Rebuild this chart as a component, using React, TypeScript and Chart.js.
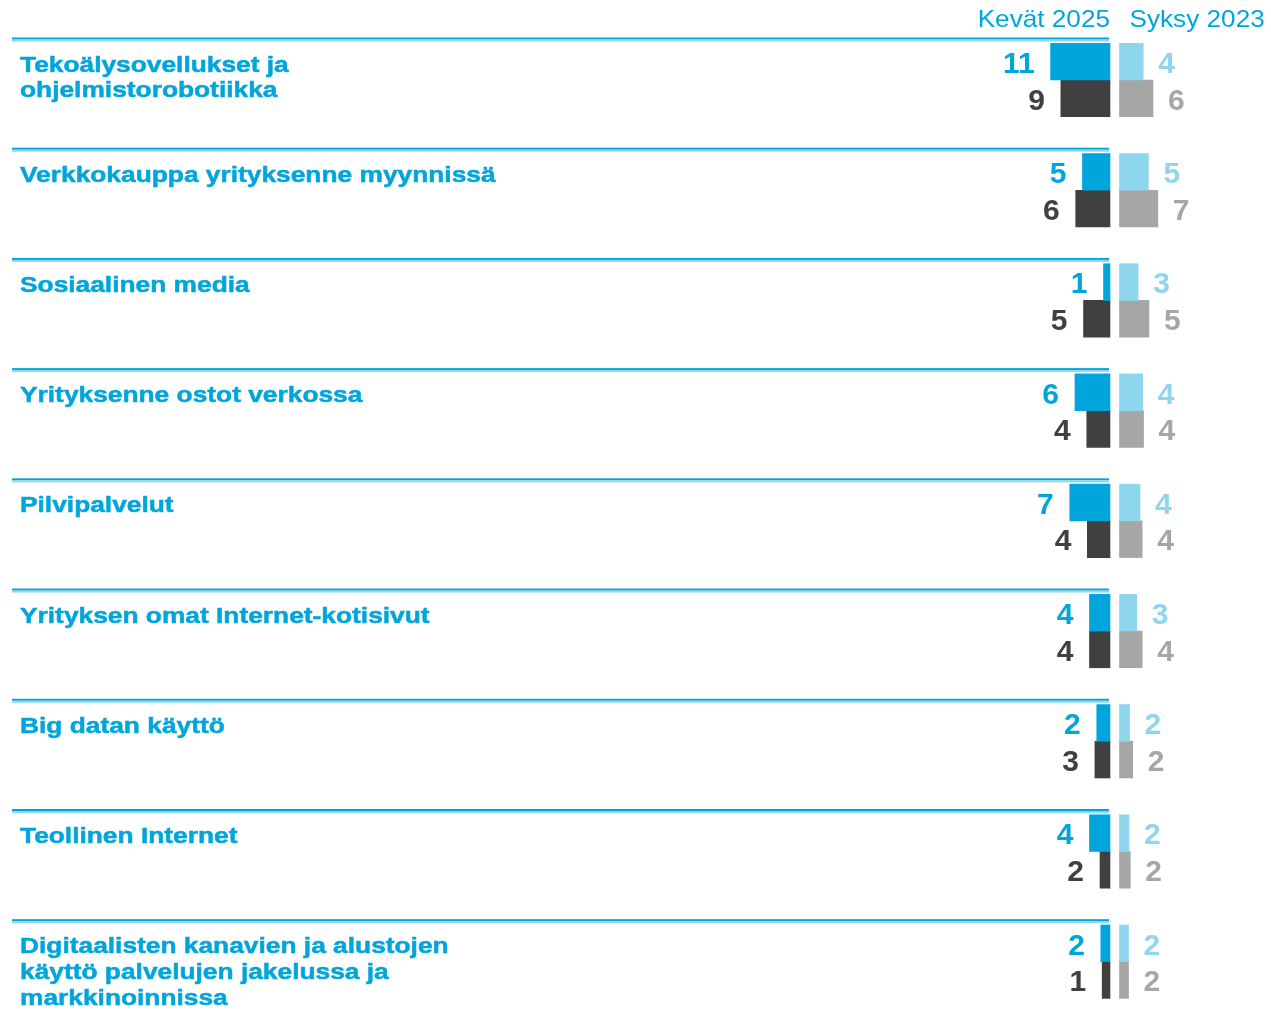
import React, { useEffect, useRef } from "react";
import { Chart, registerables } from "chart.js";

Chart.register(...registerables);

// ---- data ----
const categories: string[][] = [
  ["Tekoälysovellukset ja", "ohjelmistorobotiikka"],
  ["Verkkokauppa yrityksenne myynnissä"],
  ["Sosiaalinen media"],
  ["Yrityksenne ostot verkossa"],
  ["Pilvipalvelut"],
  ["Yrityksen omat Internet-kotisivut"],
  ["Big datan käyttö"],
  ["Teollinen Internet"],
  ["Digitaalisten kanavien ja alustojen", "käyttö palvelujen jakelussa ja", "markkinoinnissa"],
];
const seriesNames = ["Kevät 2025", "Syksy 2023"];
// top row (blue) and bottom row (grey) for each period
const kevat2025Top = [11.0, 5.1, 1.2, 6.49, 7.45, 3.8, 2.45, 3.8, 1.7];
const kevat2025Bottom = [9.1, 6.35, 4.9, 4.3, 4.2, 3.8, 2.8, 1.85, 1.45];
const syksy2023Top = [4.4, 5.35, 3.45, 4.3, 3.8, 3.2, 1.85, 1.75, 1.67];
const syksy2023Bottom = [6.2, 7.1, 5.45, 4.45, 4.2, 4.2, 2.45, 2.0, 1.67];

// ---- style / layout ----
const W = 1271;
const H = 1009;
const PX_PER_UNIT = 5.4;
const LEFT_ZERO = 1110;
const RIGHT_ZERO = 1119.5;
const BLUE = "#00A6DB";
const LIGHT_BLUE = "#8DD6EE";
const DARK = "#404040";
const GREY = "#A6A6A6";
const LINE_DARK = "#00A3DA";
const LINE_LIGHT = "#8ED8F0";
const FONT = '"Liberation Sans", Arial, sans-serif';

const decorPlugin = {
  id: "decor",
  afterDatasetsDraw(chart: any) {
    const ctx = chart.ctx as CanvasRenderingContext2D;
    const yScale = chart.scales.y;

    // header
    ctx.save();
    ctx.fillStyle = BLUE;
    ctx.font = `24px ${FONT}`;
    ctx.textBaseline = "alphabetic";
    ctx.save();
    ctx.translate(LEFT_ZERO, 27);
    ctx.scale(1.09, 1);
    ctx.textAlign = "right";
    ctx.fillText(seriesNames[0], 0, 0);
    ctx.restore();
    ctx.save();
    ctx.translate(RIGHT_ZERO + 10, 27);
    ctx.scale(1.09, 1);
    ctx.textAlign = "left";
    ctx.fillText(seriesNames[1], 0, 0);
    ctx.restore();
    ctx.restore();

    // separators + category labels
    categories.forEach((lines, i) => {
      const cy = yScale.getPixelForValue(i);
      const sep = cy - 42.5;
      ctx.save();
      ctx.fillStyle = LINE_DARK;
      ctx.fillRect(12, sep, LEFT_ZERO - 1 - 12, 2);
      ctx.fillStyle = LINE_LIGHT;
      ctx.fillRect(12, sep + 2, LEFT_ZERO - 1 - 12, 2);
      ctx.fillStyle = BLUE;
      ctx.strokeStyle = BLUE;
      ctx.lineWidth = 0.5;
      ctx.font = `bold 22.5px ${FONT}`;
      ctx.textAlign = "left";
      ctx.textBaseline = "alphabetic";
      lines.forEach((ln, k) => {
        ctx.save();
        ctx.translate(20, sep + 34 + k * 25.7);
        ctx.scale(1.17, 1);
        ctx.fillText(ln, 0, 0);
        ctx.strokeText(ln, 0, 0);
        ctx.restore();
      });
      ctx.restore();
    });

    // value labels
    chart.data.datasets.forEach((ds: any, di: number) => {
      const meta = chart.getDatasetMeta(di);
      const left = ds.xAxisID === "xL";
      ctx.save();
      ctx.font = `bold 30px ${FONT}`;
      ctx.fillStyle = ds.labelColor;
      ctx.textBaseline = "middle";
      ctx.textAlign = left ? "right" : "left";
      meta.data.forEach((bar: any, j: number) => {
        const v = ds.data[j];
        const txt = String(Math.round(v));
        const x = left ? bar.x - 16 : bar.x + 15;
        ctx.fillText(txt, x, bar.y + 3);
      });
      ctx.restore();
    });
  },
};

export default function App() {
  const ref = useRef<HTMLCanvasElement>(null);
  useEffect(() => {
    if (!ref.current) return;
    const chart = new Chart(ref.current, {
      type: "bar",
      data: {
        labels: categories.map((c) => c.join(" ")),
        datasets: [
          {
            label: seriesNames[0],
            data: kevat2025Top,
            backgroundColor: BLUE,
            labelColor: BLUE,
            xAxisID: "xL",
            stack: "top",
            clip: false,
          } as any,
          {
            label: seriesNames[0],
            data: kevat2025Bottom,
            backgroundColor: DARK,
            labelColor: DARK,
            xAxisID: "xL",
            stack: "bottom",
            clip: false,
          } as any,
          {
            label: seriesNames[1],
            data: syksy2023Top,
            backgroundColor: LIGHT_BLUE,
            labelColor: LIGHT_BLUE,
            xAxisID: "xR",
            stack: "top",
            clip: false,
          } as any,
          {
            label: seriesNames[1],
            data: syksy2023Bottom,
            backgroundColor: GREY,
            labelColor: GREY,
            xAxisID: "xR",
            stack: "bottom",
            clip: false,
          } as any,
        ],
      },
      options: {
        indexAxis: "y",
        responsive: true,
        maintainAspectRatio: false,
        animation: false,
        events: [],
        layout: { padding: { top: 80, bottom: H - 961.7, left: 0, right: 0 } },
        datasets: { bar: { barThickness: 36.7, borderWidth: 0 } },
        plugins: { legend: { display: false }, tooltip: { enabled: false } },
        scales: {
          y: { type: "category", offset: false, display: false, grid: { display: false } },
          xL: {
            type: "linear",
            axis: "x",
            reverse: true,
            stacked: false,
            display: false,
            min: -(W - LEFT_ZERO) / PX_PER_UNIT,
            max: LEFT_ZERO / PX_PER_UNIT,
          },
          xR: {
            type: "linear",
            axis: "x",
            stacked: false,
            display: false,
            min: -RIGHT_ZERO / PX_PER_UNIT,
            max: (W - RIGHT_ZERO) / PX_PER_UNIT,
          },
        } as any,
      },
      plugins: [decorPlugin],
    } as any);
    return () => chart.destroy();
  }, []);
  return (
    <div style={{ position: "absolute", left: 0, top: 0, width: W, height: H, background: "#fff" }}>
      <canvas ref={ref} />
    </div>
  );
}
